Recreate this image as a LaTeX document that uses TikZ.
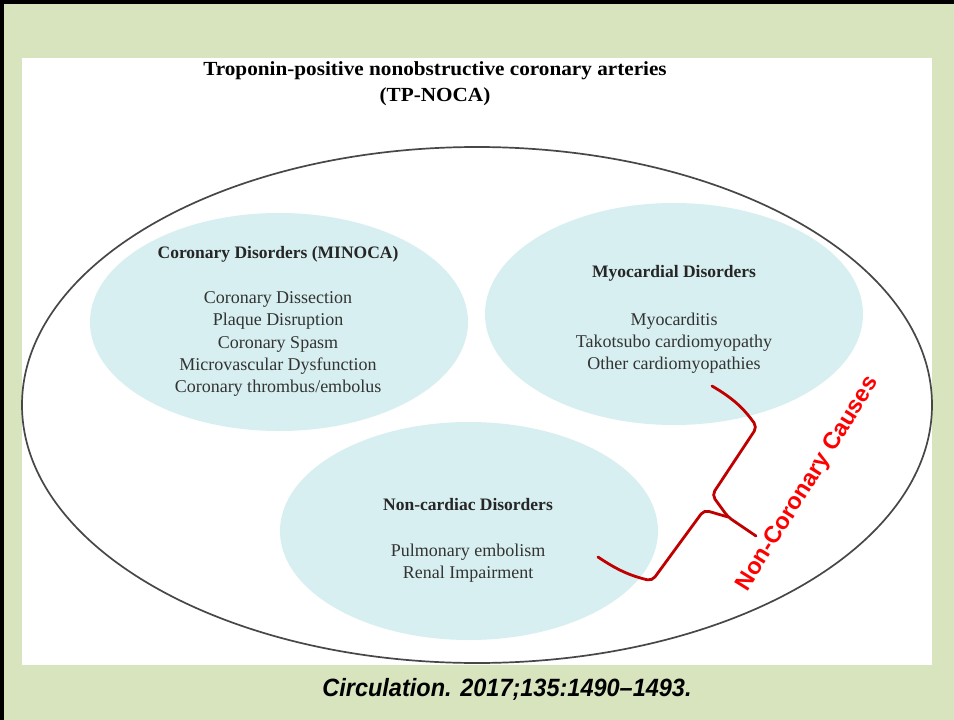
\documentclass[tikz,border=0pt]{standalone}
\usepackage{fontspec}
\setmainfont{Liberation Serif}
\setsansfont{Liberation Sans}
\usetikzlibrary{shapes}
\usetikzlibrary{positioning}
\definecolor{slidegreen}{HTML}{D8E4BD}
\definecolor{blobcyan}{HTML}{D7EFF0}
\definecolor{bracered}{HTML}{C00000}
\tikzset{
    blob/.style = {ellipse, fill=blobcyan, inner sep=0pt},
    heading/.style = {align=center, font=\bfseries\fontsize{17.5}{20}\selectfont, text=black!85},
    items/.style = {align=center, font=\fontsize{18}{22.3}\selectfont, text=black!80},
    brace/.style = {line width=2.8pt, draw=bracered, rounded corners=5pt, line cap=round},
}

\begin{document}
\begin{tikzpicture}[x=1pt,y=-1pt]
  \useasboundingbox (0,0) rectangle (954,720);
  \fill[slidegreen] (0,0) rectangle (954,720);
  \fill[black] (0,0) rectangle (954,3.5);
  \fill[black] (0,0) rectangle (3.5,720);
  \fill[white] (22,58) rectangle (932,665);

  % title
  \node[font=\bfseries\fontsize{20}{26}\selectfont, align=center] (title) at (435,84)
    {\scalebox{1.06}[1]{Troponin-positive nonobstructive coronary arteries}\\
     \scalebox{1.06}[1]{(TP-NOCA)}};

  % the three groups
  \node[blob, minimum width=378pt, minimum height=218pt] (coronary) at (279,322) {};
  \node[blob, minimum width=378pt, minimum height=222pt] (myocard) at (674,314) {};
  \node[blob, minimum width=378pt, minimum height=218pt] (noncard) at (469,531) {};

  \draw[line width=1.7pt, draw=black!72] (477,405) ellipse [x radius=455, y radius=258];

  \node[heading] (coronaryhead) at (278,254) {Coronary Disorders (MINOCA)};
  \node[items, anchor=north] (coronarylist) at (278,288)
    {Coronary Dissection\\ Plaque Disruption\\ Coronary Spasm\\
     Microvascular Dysfunction\\ Coronary thrombus/embolus};

  \node[heading] (myocardhead) at (674,273) {Myocardial Disorders};
  \node[items, anchor=north] (myocardlist) at (674,309)
    {Myocarditis\\ Takotsubo cardiomyopathy\\ Other cardiomyopathies};

  \node[heading] (noncardhead) at (468,505) {Non-cardiac Disorders};
  \node[items, anchor=north] (noncardlist) at (468,540)
    {Pulmonary embolism\\ Renal Impairment};

  % red curly brace
  \coordinate (upend) at (712,386);
  \coordinate (upbend) at (757,427);
  \coordinate (midbend) at (712,495);
  \coordinate (merge) at (728,517);
  \coordinate (tip) at (756,536);
  \coordinate (lowbend) at (704,510);
  \coordinate (lowcorner) at (652,581);
  \coordinate (lowend) at (598,557);
  \draw[brace] (upend) to[bend left=12] (upbend) -- (midbend) -- (merge) -- (tip);
  \draw[brace] (lowend) to[bend right=10] (lowcorner) -- (lowbend) -- (merge);

  \node[rotate=58, text=red, font=\sffamily\bfseries\fontsize{23.5}{26}\selectfont] (causes) at (808,484)
    {Non-Coronary Causes};

  % source
  \node[font=\sffamily\bfseries\itshape\fontsize{25}{30}\selectfont] (source) at (507,689)
    {\scalebox{0.94}[1]{Circulation. 2017;135:1490–1493.}};
\end{tikzpicture}
\end{document}
